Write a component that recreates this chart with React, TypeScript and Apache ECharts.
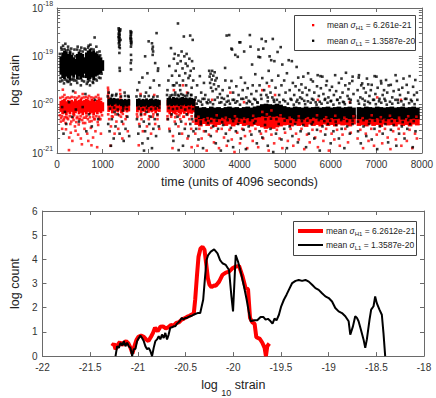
import React, { useEffect, useRef } from "react";
import * as echarts from "echarts";

// ---------- top panel: time (units of 4096 s) vs log10 strain ----------
const timeTicks = [0, 1000, 2000, 3000, 4000, 5000, 6000, 7000, 8000];
const strainDecades = [-21, -20, -19, -18];

// dense cores [t, low exponent, high exponent]
const blackBand: number[][] = [
  [50,-19.38,-19.0],[90,-19.45,-18.92],[130,-19.47,-18.88],[170,-19.42,-18.9],[210,-19.46,-18.95],[250,-19.5,-18.9],
  [290,-19.4,-18.97],[330,-19.44,-19.02],[370,-19.38,-19.05],[410,-19.47,-18.95],[450,-19.42,-18.9],[490,-19.48,-18.93],
  [530,-19.44,-18.95],[570,-19.36,-19.02],[610,-19.45,-18.92],[650,-19.5,-18.88],[690,-19.47,-18.85],[730,-19.44,-18.9],
  [770,-19.5,-18.88],[810,-19.42,-18.92],[850,-19.4,-18.95],[890,-19.38,-18.98],[930,-19.35,-19.02],[970,-19.3,-19.08],
  [1100,-20.02,-19.86],[1140,-20.0,-19.85],[1180,-20.03,-19.87],[1220,-20.0,-19.86],[1260,-19.98,-19.88],[1300,-20.02,-19.87],
  [1340,-20.0,-19.9],[1380,-20.03,-19.88],[1420,-20.05,-19.9],[1460,-20.02,-19.88],[1500,-20.04,-19.9],[1540,-20.02,-19.88],
  [1730,-20.04,-19.88],[1770,-20.02,-19.87],[1810,-20.05,-19.9],[1850,-20.03,-19.88],[1890,-20.04,-19.89],[1930,-20.02,-19.87],
  [1970,-20.05,-19.9],[2010,-20.03,-19.88],[2050,-20.02,-19.87],[2090,-20.04,-19.9],[2130,-20.03,-19.88],[2170,-20.05,-19.89],[2210,-20.02,-19.9],
  [2400,-20.02,-19.86],[2440,-20.0,-19.85],[2480,-20.03,-19.87],[2520,-20.01,-19.84],[2560,-20.02,-19.86],[2600,-20.0,-19.85],
  [2640,-20.03,-19.87],[2680,-20.01,-19.85],[2720,-20.02,-19.84],[2760,-20.0,-19.86],[2800,-20.03,-19.85],[2840,-20.01,-19.87],
  [2880,-20.02,-19.85],[2920,-20.0,-19.86],[2960,-20.03,-19.88],
  [3010,-20.27,-20.03],[3090,-20.3,-20.06],[3170,-20.28,-20.05],[3250,-20.31,-20.07],[3330,-20.27,-20.04],[3410,-20.29,-20.06],
  [3490,-20.3,-20.05],[3570,-20.27,-20.07],[3650,-20.3,-20.05],[3730,-20.28,-20.04],[3810,-20.31,-20.06],[3890,-20.27,-20.05],
  [3970,-20.29,-20.07],[4050,-20.3,-20.05],[4130,-20.28,-20.04],[4210,-20.3,-20.06],[4290,-20.27,-20.04],[4370,-20.26,-20.02],
  [4450,-20.24,-19.99],[4530,-20.25,-19.98],[4610,-20.23,-19.99],[4690,-20.25,-20.0],[4770,-20.24,-19.98],[4850,-20.26,-20.0],
  [4930,-20.27,-20.03],[5010,-20.3,-20.05],[5090,-20.28,-20.06],[5170,-20.3,-20.04],[5250,-20.29,-20.05],[5330,-20.31,-20.06],
  [5410,-20.28,-20.04],[5490,-20.3,-20.06],[5570,-20.27,-20.05],[5650,-20.29,-20.04],[5730,-20.31,-20.06],[5810,-20.28,-20.05],
  [5890,-20.3,-20.04],[5970,-20.28,-20.06],[6050,-20.3,-20.05],[6130,-20.29,-20.04],[6210,-20.31,-20.06],[6290,-20.28,-20.05],
  [6370,-20.3,-20.04],[6450,-20.29,-20.06],
  [6570,-20.3,-20.05],[6650,-20.28,-20.06],[6730,-20.31,-20.04],[6810,-20.29,-20.05],[6890,-20.3,-20.06],[6970,-20.28,-20.04],
  [7050,-20.31,-20.05],[7130,-20.29,-20.06],[7210,-20.3,-20.05],[7290,-20.28,-20.04],[7370,-20.3,-20.06],[7450,-20.29,-20.05],
  [7530,-20.31,-20.04],[7610,-20.28,-20.06],[7690,-20.3,-20.05],[7770,-20.29,-20.04],[7850,-20.3,-20.06]
];

const redBand: number[][] = [
  [50,-20.15,-19.92],[90,-20.2,-19.9],[130,-20.18,-19.88],[170,-20.22,-19.93],[210,-20.16,-19.9],[250,-20.2,-19.92],
  [290,-20.15,-19.9],[330,-20.22,-19.93],[370,-20.18,-19.88],[410,-20.14,-19.92],[450,-20.2,-19.9],[490,-20.17,-19.87],
  [530,-20.22,-19.92],[570,-20.16,-19.9],[610,-20.2,-19.88],[650,-20.15,-19.9],[690,-20.2,-19.92],[730,-20.17,-19.88],
  [770,-20.22,-19.9],[810,-20.16,-19.93],[850,-20.2,-19.9],[890,-20.15,-19.88],[930,-20.18,-19.92],[970,-20.14,-19.95],
  [1100,-20.15,-19.9],[1140,-20.12,-19.9],[1180,-20.18,-19.92],[1220,-20.12,-19.9],[1260,-20.14,-19.92],[1300,-20.16,-19.9],
  [1340,-20.12,-19.88],[1380,-20.18,-19.9],[1420,-20.15,-19.92],[1460,-20.12,-19.9],[1500,-20.16,-19.92],[1540,-20.14,-19.9],
  [1730,-20.16,-19.92],[1770,-20.12,-19.9],[1810,-20.18,-19.93],[1850,-20.14,-19.9],[1890,-20.15,-19.92],[1930,-20.12,-19.9],
  [1970,-20.17,-19.93],[2010,-20.14,-19.9],[2050,-20.16,-19.92],[2090,-20.13,-19.9],[2130,-20.18,-19.93],[2170,-20.14,-19.91],[2210,-20.15,-19.92],
  [2400,-20.16,-19.9],[2440,-20.2,-19.92],[2480,-20.15,-19.9],[2520,-20.18,-19.91],[2560,-20.2,-19.9],[2600,-20.15,-19.92],
  [2640,-20.18,-19.9],[2680,-20.2,-19.91],[2720,-20.16,-19.9],[2760,-20.19,-19.92],[2800,-20.15,-19.9],[2840,-20.2,-19.91],
  [2880,-20.17,-19.9],[2920,-20.19,-19.92],[2960,-20.16,-19.9],
  [3010,-20.42,-20.2],[3090,-20.45,-20.22],[3170,-20.4,-20.19],[3250,-20.44,-20.21],[3330,-20.41,-20.2],[3410,-20.46,-20.22],
  [3490,-20.42,-20.19],[3570,-20.4,-20.21],[3650,-20.44,-20.2],[3730,-20.41,-20.22],[3810,-20.45,-20.19],[3890,-20.42,-20.2],
  [3970,-20.4,-20.21],[4050,-20.44,-20.2],[4130,-20.42,-20.19],[4210,-20.45,-20.21],[4290,-20.42,-20.18],[4370,-20.44,-20.15],
  [4450,-20.47,-20.1],[4530,-20.5,-20.08],[4610,-20.48,-20.1],[4690,-20.5,-20.09],[4770,-20.47,-20.1],[4850,-20.45,-20.13],
  [4930,-20.43,-20.17],[5010,-20.42,-20.2],[5090,-20.45,-20.21],[5170,-20.41,-20.2],[5250,-20.44,-20.22],[5330,-20.42,-20.19],
  [5410,-20.46,-20.21],[5490,-20.41,-20.2],[5570,-20.44,-20.22],[5650,-20.42,-20.19],[5730,-20.45,-20.2],[5810,-20.41,-20.21],
  [5890,-20.44,-20.2],[5970,-20.42,-20.22],[6050,-20.45,-20.19],[6130,-20.41,-20.2],[6210,-20.43,-20.21],[6290,-20.42,-20.2],
  [6370,-20.45,-20.22],[6450,-20.41,-20.2],
  [6570,-20.44,-20.21],[6650,-20.42,-20.2],[6730,-20.45,-20.19],[6810,-20.41,-20.22],[6890,-20.44,-20.2],[6970,-20.42,-20.21],
  [7050,-20.46,-20.2],[7130,-20.41,-20.19],[7210,-20.43,-20.22],[7290,-20.42,-20.2],[7370,-20.45,-20.21],[7450,-20.41,-20.2],
  [7530,-20.44,-20.22],[7610,-20.42,-20.19],[7690,-20.45,-20.21],[7770,-20.41,-20.2],[7850,-20.43,-20.2]
];

// scattered points [t, exponent]
const blackPts: number[][] = [
  [90,-18.82],[130,-18.78],[180,-18.74],[240,-18.8],[310,-18.84],[380,-18.86],[450,-18.8],[530,-18.82],[600,-18.84],[690,-18.78],
  [730,-18.76],[822,-18.61],[860,-18.8],[930,-18.9],
  [70,-19.52],[150,-19.56],[230,-19.53],[300,-19.58],[370,-19.5],[440,-19.55],[520,-19.6],[590,-19.52],[650,-19.57],[720,-19.6],
  [790,-19.55],[870,-19.5],[950,-19.45],
  [60,-18.95],[75,-19.45],[100,-18.86],[115,-19.5],[160,-18.85],[175,-19.48],[200,-18.88],[215,-19.5],[245,-18.86],[270,-19.52],
  [285,-18.9],[320,-19.48],[345,-18.95],[360,-19.46],[395,-19.0],[420,-19.5],[440,-18.86],[470,-19.46],[505,-18.88],[545,-19.5],
  [560,-18.9],[600,-19.42],[625,-18.86],[670,-19.53],[680,-18.82],[710,-19.5],[750,-18.85],[780,-19.53],[800,-18.86],[840,-19.47],
  [880,-18.92],[915,-19.44],[945,-18.98],[975,-19.36],
  [110,-20.05],[170,-20.15],[260,-19.95],[330,-20.25],[410,-20.1],[480,-20.35],[560,-20.05],[620,-19.78],[700,-20.2],[760,-20.45],
  [830,-19.9],[900,-20.3],[200,-20.4],[640,-20.55],[350,-19.72],[140,-20.6],
  [1120,-20.4],[1150,-20.55],[1200,-20.3],[1240,-20.7],[1280,-20.45],[1330,-20.2],[1370,-20.6],[1420,-20.35],[1460,-20.75],[1500,-20.5],
  [1540,-20.25],[1580,-20.65],[1260,-20.15],[1440,-20.12],[1180,-20.85],
  [1130,-19.75],[1210,-19.8],[1300,-19.78],[1480,-19.75],[1560,-19.82],
  [1110,-19.83],[1160,-20.08],[1200,-19.82],[1250,-20.06],[1290,-19.81],[1330,-20.1],[1400,-19.83],[1450,-20.07],[1490,-19.82],
  [1530,-20.09],[1570,-19.84],
  [1350,-18.42],[1355,-18.45],[1360,-18.48],[1365,-18.5],[1350,-18.53],[1358,-18.56],[1362,-18.6],[1368,-18.62],[1355,-18.65],
  [1360,-18.68],[1365,-18.7],[1352,-18.73],[1370,-18.76],[1360,-18.8],[1375,-18.83],[1380,-18.47],[1372,-18.55],[1345,-18.6],
  [1390,-18.66],[1385,-18.44],[1365,-18.93],[1370,-19.24],[1375,-19.3],
  [1610,-18.48],[1615,-18.52],[1620,-18.55],[1612,-18.58],[1618,-18.62],[1622,-18.65],[1615,-18.68],[1620,-18.72],[1625,-18.75],
  [1618,-18.8],[1628,-18.5],[1608,-18.63],[1630,-18.7],[1620,-18.97],[1625,-19.08],[1615,-19.14],[1620,-19.27],
  [1750,-20.3],[1780,-20.6],[1810,-20.45],[1840,-20.2],[1870,-20.8],[1900,-20.35],[1930,-20.55],[1960,-20.15],[1990,-20.7],
  [2020,-20.4],[2050,-20.25],[2080,-20.9],[2110,-20.5],[2140,-20.3],[2170,-20.65],[2200,-20.2],[2230,-20.45],[1905,-20.95],
  [1740,-19.83],[1790,-20.08],[1830,-19.82],[1880,-20.1],[1920,-19.83],[1970,-20.07],[2010,-19.82],[2060,-20.09],[2110,-19.84],
  [2160,-20.08],[2200,-19.83],[2240,-20.06],
  [1800,-19.54],[1870,-19.44],[1930,-19.0],[2007,-18.69],[2080,-18.73],[2090,-18.85],[2095,-18.97],[2100,-18.8],[2105,-18.9],
  [2150,-19.14],[2181,-18.52],[2215,-19.25],[2210,-19.3],[1760,-19.7],[1950,-19.75],[2040,-19.65],[2120,-19.5],[2240,-19.6],[1980,-19.35],
  [2420,-19.7],[2440,-19.5],[2460,-19.2],[2497,-18.83],[2520,-19.4],[2540,-19.6],[2560,-19.05],[2580,-18.95],[2600,-19.3],
  [2620,-19.55],[2640,-19.15],[2650,-18.32],[2660,-18.98],[2680,-19.4],[2700,-19.7],[2710,-19.1],[2730,-18.9],[2750,-19.25],
  [2760,-19.5],[2779,-18.59],[2790,-19.0],[2810,-19.35],[2830,-19.6],[2840,-18.95],[2860,-19.2],[2880,-19.45],[2900,-19.05],
  [2918,-18.57],[2930,-19.3],[2950,-19.65],[2960,-19.1],[2974,-18.66],[2985,-19.5],[2995,-19.25],[2470,-19.85],[2530,-19.8],
  [2590,-19.75],[2650,-19.8],[2720,-19.78],[2800,-19.82],[2870,-19.76],[2940,-19.8],[2570,-19.6],[2690,-19.6],[2820,-19.15],[2910,-19.4],
  [2410,-19.8],[2450,-20.07],[2490,-19.81],[2540,-20.09],[2590,-19.8],[2630,-20.08],[2670,-19.82],[2720,-20.06],[2760,-19.8],
  [2810,-20.1],[2850,-19.81],[2900,-20.07],[2940,-19.8],[2980,-20.09],
  [2430,-20.3],[2470,-20.55],[2510,-20.2],[2550,-20.75],[2600,-20.4],[2640,-20.25],[2680,-20.6],[2720,-20.35],[2760,-20.85],
  [2800,-20.5],[2840,-20.2],[2880,-20.65],[2920,-20.4],[2960,-20.3],[2990,-20.55],[2665,-20.94],
  [3040,-19.85],[3070,-19.6],[3100,-19.92],[3130,-19.41],[3160,-19.75],[3190,-19.88],[3220,-19.55],[3250,-19.8],[3280,-19.95],
  [3335,-19.3],[3345,-19.42],[3355,-19.55],[3365,-19.36],[3375,-19.65],[3390,-19.48],[3400,-19.3],[3410,-19.72],[3425,-19.4],
  [3440,-19.58],[3455,-19.33],[3470,-19.5],[3485,-19.68],[3500,-19.45],[3320,-19.9],[3520,-19.85],[3540,-19.62],
  [3570,-19.78],[3600,-19.95],[3630,-19.7],[3660,-19.88],[3690,-19.5],[3718,-18.57],[3740,-19.82],[3774,-18.56],[3780,-19.65],
  [3760,-19.92],[3684,-19.24],[3823,-18.84],[3823,-19.51],[3837,-18.86],[3860,-19.75],[3880,-19.9],[3907,-18.97],[3930,-19.62],
  [3962,-19.01],[3980,-19.8],[3997,-18.71],[4018,-18.71],[4032,-19.44],[4040,-19.88],
  [4070,-19.7],[4102,-18.9],[4120,-19.55],[4150,-19.85],[4180,-19.66],[4200,-19.92],[4227,-18.56],[4241,-18.8],[4260,-19.78],
  [4276,-19.17],[4290,-19.6],[4320,-19.88],[4346,-19.37],[4370,-19.72],[4390,-19.95],[4416,-18.86],[4416,-19.01],[4440,-19.6],
  [4451,-19.02],[4470,-19.8],[4486,-18.64],[4500,-19.45],[4521,-18.84],[4540,-19.7],
  [4576,-18.69],[4600,-19.55],[4620,-19.85],[4640,-19.3],[4660,-19.0],[4680,-19.75],[4695,-19.08],[4710,-19.5],[4730,-18.64],
  [4750,-19.9],[4765,-19.1],[4790,-19.65],[4835,-18.91],[4850,-19.4],[4870,-19.8],[4904,-18.81],[4920,-19.6],[4939,-19.17],
  [4960,-19.9],[4980,-19.5],[5010,-19.75],[5040,-19.35],
  [5079,-19.08],[5100,-19.7],[5120,-19.88],[5148,-19.1],[5170,-19.55],[5200,-19.8],[5230,-19.62],[5253,-19.22],[5270,-19.9],
  [5288,-19.44],[5310,-19.7],[5330,-19.85],[5358,-19.58],[5380,-19.75],[5400,-19.42],[5420,-19.92],[5450,-19.65],[5480,-19.8],
  [5505,-19.35],[5530,-19.7],[5567,-19.48],[5590,-19.88],[5609,-19.52],[5640,-19.75],[5670,-19.95],[5700,-19.62],[5714,-19.39],
  [5740,-19.82],[5776,-19.41],[5784,-19.66],[5818,-19.42],[5840,-19.78],[5870,-19.9],[5900,-19.6],[5916,-19.51],[5950,-19.85],
  [5980,-19.7],[6010,-19.92],[6028,-19.63],[6070,-19.8],[6098,-19.39],[6120,-19.72],[6150,-19.9],[6180,-19.55],[6210,-19.85],
  [6237,-19.46],[6260,-19.75],[6290,-19.95],[6320,-19.6],[6335,-19.34],[6370,-19.82],[6390,-19.68],[6412,-19.56],[6440,-19.9],
  [6474,-19.51],[6481,-19.42],[6500,-19.78],
  [6590,-19.7],[6614,-19.44],[6621,-19.39],[6650,-19.85],[6670,-19.6],[6691,-19.56],[6725,-19.66],[6750,-19.92],[6770,-19.75],
  [6795,-19.46],[6823,-19.58],[6850,-19.82],[6880,-19.7],[6900,-19.59],[6930,-19.9],[6963,-19.41],[6980,-19.78],[7004,-19.42],
  [7030,-19.65],[7070,-19.88],[7103,-19.51],[7109,-19.56],[7140,-19.8],[7170,-19.7],[7200,-19.92],[7214,-19.49],[7240,-19.75],
  [7270,-19.6],[7318,-19.59],[7350,-19.85],[7380,-19.72],[7423,-19.39],[7451,-19.51],[7470,-19.9],[7493,-19.69],[7520,-19.8],
  [7570,-19.65],[7597,-19.46],[7630,-19.88],[7667,-19.59],[7700,-19.75],[7730,-19.41],[7760,-19.9],[7807,-19.63],[7830,-19.8],
  [7856,-19.49],[7890,-19.75],
  [3020,-19.9],[3150,-19.94],[3230,-19.88],[3360,-19.95],[3460,-19.9],[3610,-19.86],[3720,-19.94],[3850,-19.9],[3950,-19.93],
  [4080,-19.88],[4230,-19.94],[4350,-19.9],[4480,-19.88],[4590,-19.8],[4720,-19.85],[4820,-19.9],[5000,-19.93],[5140,-19.9],
  [5250,-19.94],[5370,-19.88],[5500,-19.93],[5620,-19.9],[5760,-19.94],[5880,-19.88],[6000,-19.93],[6140,-19.9],[6270,-19.94],
  [6400,-19.88],[6600,-19.92],[6700,-19.88],[6820,-19.94],[6950,-19.9],[7060,-19.93],[7180,-19.88],[7300,-19.94],[7420,-19.9],
  [7550,-19.93],[7660,-19.88],[7780,-19.93],[7900,-19.9],
  [3060,-19.98],[3180,-20.0],[3300,-19.97],[3420,-19.99],[3560,-19.96],[3680,-20.0],[3790,-19.98],[3910,-19.96],[4010,-20.0],
  [4160,-19.97],[4280,-19.99],[4400,-19.96],[4620,-19.93],[4760,-19.94],[4880,-19.95],[5060,-19.98],[5190,-20.0],[5310,-19.97],
  [5440,-19.99],[5560,-19.96],[5690,-20.0],[5800,-19.98],[5930,-19.96],[6060,-20.0],[6190,-19.97],[6310,-19.99],[6430,-19.96],
  [6620,-19.98],[6740,-20.0],[6860,-19.97],[6990,-19.99],[7110,-19.96],[7230,-20.0],[7350,-19.98],[7480,-19.96],[7600,-20.0],
  [7720,-19.97],[7840,-19.99],
  [3050,-20.33],[3150,-20.35],[3260,-20.32],[3380,-20.34],[3500,-20.33],[3620,-20.36],[3740,-20.32],[3860,-20.34],[3990,-20.33],
  [4110,-20.35],[4230,-20.32],[4350,-20.34],[4570,-20.3],[4690,-20.29],[4810,-20.3],[4990,-20.33],[5120,-20.35],[5240,-20.32],
  [5370,-20.34],[5490,-20.33],[5610,-20.36],[5740,-20.32],[5860,-20.34],[5990,-20.33],[6110,-20.35],[6230,-20.32],[6360,-20.34],
  [6480,-20.33],[6600,-20.35],[6720,-20.32],[6850,-20.34],[6970,-20.33],[7090,-20.35],[7210,-20.32],[7340,-20.34],[7460,-20.33],
  [7580,-20.36],[7700,-20.32],[7820,-20.34],
  [3050,-20.5],[3100,-20.72],[3150,-20.4],[3200,-20.9],[3260,-20.55],[3310,-20.38],[3370,-20.65],[3420,-20.45],[3480,-20.8],
  [3530,-20.5],[3590,-20.95],[3640,-20.42],[3700,-20.6],[3750,-20.75],[3810,-20.48],[3860,-20.88],[3920,-20.55],[3970,-20.4],
  [4030,-20.7],[4090,-20.52],[4140,-20.92],[4200,-20.45],[4260,-20.62],[4320,-20.38],[4380,-20.8],[4440,-20.55],[4500,-20.68],
  [4560,-20.42],[4620,-20.85],[4680,-20.5],[4740,-20.98],[4800,-20.6],[4860,-20.4],[4920,-20.72],[4980,-20.5],[5040,-20.9],
  [5100,-20.45],[5160,-20.65],[5220,-20.4],[5280,-20.78],[5340,-20.55],[5400,-20.42],[5460,-20.88],[5520,-20.6],[5580,-20.4],
  [5640,-20.7],[5700,-20.52],[5760,-20.95],[5820,-20.45],[5880,-20.62],[5940,-20.4],[6000,-20.8],[6060,-20.55],[6120,-20.42],
  [6180,-20.7],[6240,-20.5],[6300,-20.9],[6360,-20.45],[6420,-20.6],[6480,-20.4],[6600,-20.55],[6660,-20.8],[6720,-20.45],
  [6780,-20.65],[6840,-20.4],[6900,-20.72],[6960,-20.5],[7020,-20.92],[7080,-20.45],[7140,-20.6],[7200,-20.4],[7260,-20.78],
  [7320,-20.52],[7380,-20.42],[7440,-20.85],[7500,-20.6],[7560,-20.45],[7620,-20.7],[7680,-20.5],[7740,-20.4],[7800,-20.88],[7860,-20.55]
];

const redPts: number[][] = [
  [80,-20.35],[110,-20.5],[125,-19.69],[160,-19.8],[150,-20.3],[194,-20.51],[220,-20.28],[259,-20.94],[264,-20.68],[290,-20.4],
  [299,-20.58],[334,-20.75],[360,-20.32],[390,-20.45],[404,-20.54],[430,-20.28],[460,-20.62],[474,-20.41],[500,-20.3],[520,-20.7],
  [543,-20.82],[570,-20.38],[600,-20.5],[630,-20.27],[660,-20.6],[683,-20.75],[710,-20.35],[740,-20.48],[753,-20.84],[788,-20.68],
  [810,-20.3],[840,-20.55],[878,-20.88],[900,-20.42],[930,-20.3],[960,-20.6],[560,-19.78],[700,-19.82],[900,-19.8],[400,-19.75],
  [60,-20.22],[85,-20.28],[105,-20.24],[135,-20.33],[165,-20.26],[185,-20.38],[205,-20.25],[240,-20.3],[275,-20.24],[310,-20.35],
  [345,-20.27],[375,-20.22],[420,-20.36],[445,-20.25],[485,-20.3],[515,-20.24],[550,-20.32],[585,-20.27],[615,-20.38],[645,-20.23],
  [675,-20.3],[720,-20.26],[755,-20.34],[795,-20.25],[825,-20.3],[860,-20.24],[890,-20.36],[920,-20.25],[950,-20.3],[985,-20.22],
  [70,-19.86],[120,-19.84],[190,-19.87],[230,-19.85],[280,-19.86],[320,-19.84],[380,-19.85],[440,-19.86],[480,-19.83],[540,-19.86],
  [590,-19.85],[640,-19.84],[680,-19.87],[750,-19.85],[800,-19.86],[850,-19.84],[910,-19.86],[960,-19.88],
  [1115,-19.65],[1120,-19.7],[1125,-19.75],[1118,-19.8],[1122,-19.85],[1380,-19.7],[1385,-19.78],[1390,-19.85],
  [1140,-20.3],[1180,-20.45],[1220,-20.25],[1260,-20.6],[1300,-20.35],[1340,-20.5],[1400,-20.25],[1450,-20.4],[1500,-20.3],
  [1550,-20.55],[1170,-20.85],[1430,-20.7],
  [1120,-20.2],[1200,-20.24],[1280,-20.2],[1360,-20.22],[1440,-20.19],[1520,-20.24],[1750,-20.2],[1840,-20.22],[1930,-20.19],
  [2020,-20.24],[2110,-20.2],[2200,-20.22],[2420,-20.24],[2500,-20.21],[2590,-20.26],[2680,-20.22],[2770,-20.25],[2860,-20.21],[2950,-20.24],
  [1760,-20.25],[1800,-20.4],[1850,-20.3],[1880,-20.55],[1920,-20.2],[1970,-20.45],[2010,-20.3],[2060,-20.6],[2100,-20.25],
  [2150,-20.4],[2200,-20.3],[2240,-20.5],[1790,-20.84],[2130,-19.8],[1830,-19.78],
  [2420,-20.3],[2460,-20.5],[2500,-20.25],[2540,-20.65],[2580,-20.35],[2620,-20.2],[2660,-20.45],[2700,-20.3],[2740,-20.6],
  [2780,-20.25],[2820,-20.4],[2860,-20.7],[2900,-20.3],[2940,-20.5],[2980,-20.35],[2560,-19.7],[2760,-19.6],[2850,-19.75],
  [2530,-20.9],[2950,-20.88],
  [3030,-20.6],[3080,-20.85],[3120,-20.5],[3170,-20.7],[3220,-20.55],[3280,-20.95],[3330,-20.62],[3380,-20.48],[3440,-20.78],
  [3500,-20.55],[3550,-20.9],[3610,-20.5],[3660,-20.68],[3720,-20.85],[3780,-20.52],[3830,-20.72],[3890,-20.98],[3950,-20.58],
  [4010,-20.8],[4060,-20.5],[4120,-20.65],[4170,-20.9],[4230,-20.55],[4290,-20.75],[4350,-20.5],[4410,-20.88],[4470,-20.6],
  [4520,-20.7],[4580,-20.55],[4640,-20.95],[4700,-20.62],[4760,-20.8],[4820,-20.52],[4880,-20.7],[4940,-20.9],[5000,-20.58],
  [5060,-20.75],[5120,-20.5],[5180,-20.85],[5240,-20.6],[5300,-20.72],[5360,-20.5],[5420,-20.92],[5480,-20.62],[5540,-20.78],
  [5600,-20.52],[5660,-20.68],[5720,-20.88],[5780,-20.55],[5840,-20.75],[5900,-20.5],[5960,-20.95],[6020,-20.6],[6080,-20.72],
  [6140,-20.52],[6200,-20.85],[6260,-20.62],[6320,-20.5],[6380,-20.78],[6440,-20.58],[6590,-20.7],[6650,-20.52],[6710,-20.9],
  [6770,-20.6],[6830,-20.75],[6890,-20.5],[6950,-20.85],[7010,-20.62],[7070,-20.55],[7130,-20.8],[7190,-20.5],[7250,-20.68],
  [7310,-20.92],[7370,-20.55],[7430,-20.72],[7490,-20.5],[7550,-20.85],[7610,-20.6],[7670,-20.75],[7730,-20.52],[7790,-20.9],
  [7850,-20.6],[7890,-20.7],
  [3400,-19.9],[3800,-19.75],[4500,-19.7],[4650,-19.62],[4780,-19.8],[5720,-19.9],[6420,-19.95],[7020,-19.85],[7540,-19.9],[4100,-19.95],
  [3100,-20.25],[3300,-20.28],[3500,-20.22],[3700,-20.27],[3900,-20.24],[4100,-20.29],[4300,-20.23],[4500,-20.15],[4600,-20.2],
  [4700,-20.12],[4900,-20.22],[5100,-20.27],[5300,-20.24],[5500,-20.28],[5700,-20.22],[5900,-20.26],[6100,-20.23],[6300,-20.27],
  [6500,-20.24],[6700,-20.28],[6900,-20.22],[7100,-20.26],[7300,-20.23],[7500,-20.27],[7700,-20.24],[7880,-20.25]
];

// ---------- bottom panel: histogram of log10 strain ----------
const strainTicks = [-22, -21.5, -21, -20.5, -20, -19.5, -19, -18.5, -18];
const countTicks = [0, 1, 2, 3, 4, 5, 6];

const redHist: number[][] = [
  [-21.269,0.41],[-21.251,0.52],[-21.234,0.28],[-21.21,0.47],[-21.189,0.58],[-21.168,0.45],[-21.147,0.55],[-21.123,0.62],
  [-21.098,0.52],[-21.077,0.34],[-21.057,0.11],[-21.036,0.41],[-21.015,0.66],[-20.994,0.8],[-20.966,0.85],[-20.938,0.8],
  [-20.914,0.69],[-20.889,0.62],[-20.862,0.8],[-20.841,0.96],[-20.82,1.17],[-20.792,1.03],[-20.764,1.21],[-20.736,1.23],
  [-20.708,1.15],[-20.681,1.19],[-20.653,1.29],[-20.625,1.26],[-20.597,1.37],[-20.569,1.4],[-20.541,1.51],[-20.513,1.56],
  [-20.486,1.62],[-20.458,1.67],[-20.43,1.73],[-20.413,1.78],[-20.399,2.33],[-20.381,3.29],[-20.364,4.11],[-20.343,4.45],
  [-20.322,4.52],[-20.301,4.39],[-20.284,3.84],[-20.266,3.22],[-20.249,2.95],[-20.228,2.85],[-20.2,2.92],[-20.183,2.91],
  [-20.148,3.08],[-20.113,3.36],[-20.078,3.45],[-20.044,3.49],[-20.009,3.63],[-19.974,3.7],[-19.939,3.73],[-19.904,3.32],
  [-19.87,2.81],[-19.845,2.77],[-19.824,1.58],[-19.8,1.4],[-19.776,1.34],[-19.758,0.78],[-19.72,0.71],[-19.695,0.55],
  [-19.671,0.34],[-19.657,0],[-19.643,0.41],[-19.622,0.52]
];

const blackHist: number[][] = [
  [-21.234,0],[-21.217,0.41],[-21.199,0.34],[-21.182,0.55],[-21.164,0.44],[-21.147,0.62],[-21.13,0.41],[-21.112,0.55],
  [-21.095,0.41],[-21.077,0.34],[-21.06,0],[-21.043,0.28],[-21.025,0.3],[-21.008,0.62],[-20.99,0.75],[-20.973,0.85],
  [-20.956,0.75],[-20.938,0.62],[-20.921,0.41],[-20.903,0.28],[-20.886,0.34],[-20.869,0.21],[-20.851,0],[-20.834,0.34],
  [-20.816,0.62],[-20.799,0.69],[-20.781,0.82],[-20.764,0.69],[-20.747,0.89],[-20.729,0.75],[-20.712,0.96],[-20.694,0.69],
  [-20.677,0.89],[-20.66,1.17],[-20.642,1.19],[-20.625,1.23],[-20.607,1.23],[-20.59,1.34],[-20.573,1.4],[-20.555,1.48],
  [-20.538,1.58],[-20.521,1.51],[-20.503,1.58],[-20.486,1.58],[-20.468,1.62],[-20.451,1.65],[-20.434,1.67],[-20.416,1.71],
  [-20.399,1.74],[-20.374,1.78],[-20.346,1.78],[-20.315,2.33],[-20.298,3.15],[-20.28,3.97],[-20.263,4.18],[-20.235,4.32],
  [-20.2,4.41],[-20.165,4.25],[-20.138,3.97],[-20.113,3.84],[-20.078,3.77],[-20.044,3.56],[-20.019,2.47],[-20.002,1.85],
  [-19.974,4.18],[-19.95,3.91],[-19.922,3.5],[-19.887,2.88],[-19.859,2.33],[-19.835,1.78],[-19.817,1.44],[-19.782,1.48],
  [-19.748,1.48],[-19.713,1.62],[-19.685,1.62],[-19.661,1.51],[-19.636,1.54],[-19.608,1.44],[-19.588,1.34],[-19.567,1.55],
  [-19.546,1.48],[-19.521,1.71],[-19.497,2.06],[-19.469,2.33],[-19.441,2.54],[-19.417,2.74],[-19.382,3.02],[-19.347,3.11],
  [-19.313,3.15],[-19.278,3.11],[-19.243,3.15],[-19.208,3.08],[-19.173,2.95],[-19.138,2.81],[-19.104,2.74],[-19.069,2.6],
  [-19.034,2.47],[-18.999,2.4],[-18.964,2.26],[-18.93,1.99],[-18.895,1.85],[-18.86,1.78],[-18.825,1.65],[-18.79,1.44],
  [-18.773,0.89],[-18.745,1.23],[-18.721,1.65],[-18.703,1.58],[-18.686,1.44],[-18.662,1.1],[-18.634,0.69],[-18.616,0.34],
  [-18.599,0.69],[-18.571,1.51],[-18.554,1.92],[-18.529,2.06],[-18.512,2.47],[-18.495,2.19],[-18.467,1.92],[-18.442,1.71],
  [-18.425,0.96],[-18.407,0]
];

const legendTop = ["mean {s|σ}{sub|H1} = 6.261e-21", "mean {s|σ}{sub|L1} = 1.3587e-20"];
const legendBottom = ["mean {s|σ}{sub|H1} = 6.2612e-21", "mean {s|σ}{sub|L1} = 1.3587e-20"];

// ---------- styling ----------
const RED = "#ff0000";
const BLACK = "#000000";
const AXIS_COLOR = "#6a6a6a";
const LABEL_COLOR = "#333333";
const NARROW = "'Liberation Sans Narrow', 'Liberation Sans', Arial, sans-serif";
const SANS = "'Liberation Sans', Arial, sans-serif";

const minorLogTicks: number[] = [];
for (const d of [-21, -20, -19]) {
  for (let k = 1; k <= 9; k++) minorLogTicks.push(d + Math.log10(k));
}
minorLogTicks.push(-18);

function bandRenderer(arr: number[][]) {
  return (params: any, api: any) => {
    const i = params.dataIndex;
    const t = arr[i][0];
    let w = 40;
    if (i + 1 < arr.length && arr[i + 1][0] - t <= 100) w = arr[i + 1][0] - t;
    else if (i > 0) w = t - arr[i - 1][0];
    const p0 = api.coord([t, api.value(2)]);
    const p1 = api.coord([t + w, api.value(1)]);
    return {
      type: "rect",
      shape: { x: p0[0], y: p0[1], width: p1[0] - p0[0] + 1, height: p1[1] - p0[1] },
      style: { fill: api.visual("color") },
    };
  };
}

const axisLine = { show: true, onZero: false, lineStyle: { color: AXIS_COLOR, width: 1 } };
const tickStyle = { color: AXIS_COLOR, width: 1 };
const labelBase = { fontSize: 10, color: LABEL_COLOR, fontFamily: NARROW };
const titleStyle = { fontSize: 12.5, color: "#222", fontFamily: SANS };
const legendRich = {
  s: { fontSize: 8.5, fontStyle: "italic", fontFamily: NARROW, fill: "#222", lineHeight: 12 },
  sub: { fontSize: 6, fontFamily: NARROW, fill: "#222", verticalAlign: "bottom", lineHeight: 7 },
};
const legendText = { rich: legendRich, fontSize: 8.5, fontFamily: NARROW, fill: "#222", lineHeight: 12, verticalAlign: "middle" };

function buildOption() {
  return {
    animation: false,
    backgroundColor: "#ffffff",
    textStyle: { fontFamily: SANS },
    grid: [
      { left: 41, top: 6, width: 382, height: 147 },
      { left: 41, top: 211, width: 383, height: 146 },
    ],
    xAxis: [
      {
        gridIndex: 0, type: "value", min: timeTicks[0], max: timeTicks[timeTicks.length - 1], interval: 1000,
        position: "bottom", axisLine, splitLine: { show: false },
        axisTick: { show: true, inside: true, length: 4, lineStyle: tickStyle },
        axisLabel: { ...labelBase, margin: 6, formatter: (v: number) => String(v) },
        name: "time (units of 4096 seconds)", nameLocation: "middle", nameGap: 22, nameTextStyle: titleStyle,
      },
      {
        gridIndex: 0, type: "value", min: timeTicks[0], max: timeTicks[timeTicks.length - 1], interval: 1000,
        position: "top", axisLine, splitLine: { show: false },
        axisTick: { show: true, inside: true, length: 4, lineStyle: tickStyle }, axisLabel: { show: false },
      },
      {
        gridIndex: 1, type: "value", min: strainTicks[0], max: strainTicks[strainTicks.length - 1], interval: 0.5,
        position: "bottom", axisLine, splitLine: { show: false },
        axisTick: { show: true, inside: true, length: 4, lineStyle: tickStyle },
        axisLabel: { ...labelBase, margin: 6, formatter: (v: number) => String(v) },
        name: "log {sub|10} strain", nameLocation: "middle", nameGap: 15,
        nameTextStyle: { ...titleStyle, lineHeight: 24, rich: { sub: { fontSize: 9, fontFamily: SANS, color: "#222", verticalAlign: "bottom", lineHeight: 9 } } },
      },
      {
        gridIndex: 1, type: "value", min: strainTicks[0], max: strainTicks[strainTicks.length - 1], interval: 0.5,
        position: "top", axisLine, splitLine: { show: false },
        axisTick: { show: true, inside: true, length: 4, lineStyle: tickStyle }, axisLabel: { show: false },
      },
    ],
    yAxis: [
      {
        gridIndex: 0, type: "value", min: strainDecades[0], max: strainDecades[strainDecades.length - 1], interval: 1,
        position: "left", axisLine, splitLine: { show: false },
        axisTick: { show: true, inside: true, length: 3, lineStyle: tickStyle, customValues: minorLogTicks },
        axisLabel: {
          margin: 4, formatter: (v: number) => `{b|10}{sup|${v}}`,
          rich: {
            b: { fontSize: 10, fontFamily: NARROW, color: LABEL_COLOR, lineHeight: 16 },
            sup: { fontSize: 7, fontFamily: NARROW, color: LABEL_COLOR, lineHeight: 7, verticalAlign: "top" },
          },
        },
        name: "log strain", nameLocation: "middle", nameGap: 26, nameTextStyle: titleStyle,
      },
      {
        gridIndex: 0, type: "value", min: strainDecades[0], max: strainDecades[strainDecades.length - 1], interval: 1,
        position: "right", axisLine, splitLine: { show: false },
        axisTick: { show: true, inside: true, length: 3, lineStyle: tickStyle, customValues: minorLogTicks },
        axisLabel: { show: false },
      },
      {
        gridIndex: 1, type: "value", min: countTicks[0], max: countTicks[countTicks.length - 1], interval: 1,
        position: "left", axisLine, splitLine: { show: false },
        axisTick: { show: true, inside: true, length: 4, lineStyle: tickStyle },
        axisLabel: { ...labelBase, margin: 5 },
        name: "log count", nameLocation: "middle", nameGap: 12, nameTextStyle: titleStyle,
      },
      {
        gridIndex: 1, type: "value", min: countTicks[0], max: countTicks[countTicks.length - 1], interval: 1,
        position: "right", axisLine, splitLine: { show: false },
        axisTick: { show: true, inside: true, length: 4, lineStyle: tickStyle }, axisLabel: { show: false },
      },
    ],
    series: [
      {
        type: "custom", name: "H1 core", xAxisIndex: 0, yAxisIndex: 0, data: redBand, clip: true, silent: true,
        encode: { x: 0, y: [1, 2] }, itemStyle: { color: RED }, renderItem: bandRenderer(redBand),
      },
      {
        type: "custom", name: "L1 core", xAxisIndex: 0, yAxisIndex: 0, data: blackBand, clip: true, silent: true,
        encode: { x: 0, y: [1, 2] }, itemStyle: { color: BLACK }, renderItem: bandRenderer(blackBand),
      },
      {
        type: "scatter", name: "H1", xAxisIndex: 0, yAxisIndex: 0, data: redPts, symbol: "rect", symbolSize: 2.6,
        itemStyle: { color: RED }, silent: true,
      },
      {
        type: "scatter", name: "L1", xAxisIndex: 0, yAxisIndex: 0, data: blackPts, symbol: "rect", symbolSize: 2.6,
        itemStyle: { color: BLACK }, silent: true,
      },
      {
        type: "line", name: "H1 hist", xAxisIndex: 2, yAxisIndex: 2, data: redHist, showSymbol: false, symbol: "none",
        lineStyle: { color: RED, width: 4 }, silent: true,
      },
      {
        type: "line", name: "L1 hist", xAxisIndex: 2, yAxisIndex: 2, data: blackHist, showSymbol: false, symbol: "none",
        lineStyle: { color: BLACK, width: 2 }, silent: true,
      },
    ],
    graphic: [
      { type: "rect", z: 100, shape: { x: 294.5, y: 15.5, width: 121, height: 35 }, style: { fill: "#fff", stroke: "#444", lineWidth: 1 } },
      { type: "rect", z: 101, shape: { x: 312, y: 24, width: 2.3, height: 2.3 }, style: { fill: RED } },
      { type: "rect", z: 101, shape: { x: 312, y: 39.6, width: 2.3, height: 2.3 }, style: { fill: BLACK } },
      { type: "text", z: 101, x: 327, y: 25, style: { text: legendTop[0], ...legendText } },
      { type: "text", z: 101, x: 327, y: 41, style: { text: legendTop[1], ...legendText } },

      { type: "rect", z: 100, shape: { x: 293.5, y: 221.5, width: 123, height: 34 }, style: { fill: "#fff", stroke: "#444", lineWidth: 1 } },
      { type: "line", z: 101, shape: { x1: 298, y1: 231, x2: 323, y2: 231 }, style: { stroke: RED, lineWidth: 4 } },
      { type: "line", z: 101, shape: { x1: 298, y1: 245, x2: 323, y2: 245 }, style: { stroke: BLACK, lineWidth: 2 } },
      { type: "text", z: 101, x: 326, y: 231, style: { text: legendBottom[0], ...legendText } },
      { type: "text", z: 101, x: 326, y: 245, style: { text: legendBottom[1], ...legendText } },
    ],
  };
}

export default function App() {
  const ref = useRef<HTMLDivElement>(null);
  useEffect(() => {
    document.body.style.margin = "0";
    const chart = echarts.init(ref.current as HTMLDivElement, undefined, { renderer: "svg" });
    chart.setOption(buildOption() as any);
    return () => chart.dispose();
  }, []);
  return <div ref={ref} style={{ width: 436, height: 398 }} />;
}
